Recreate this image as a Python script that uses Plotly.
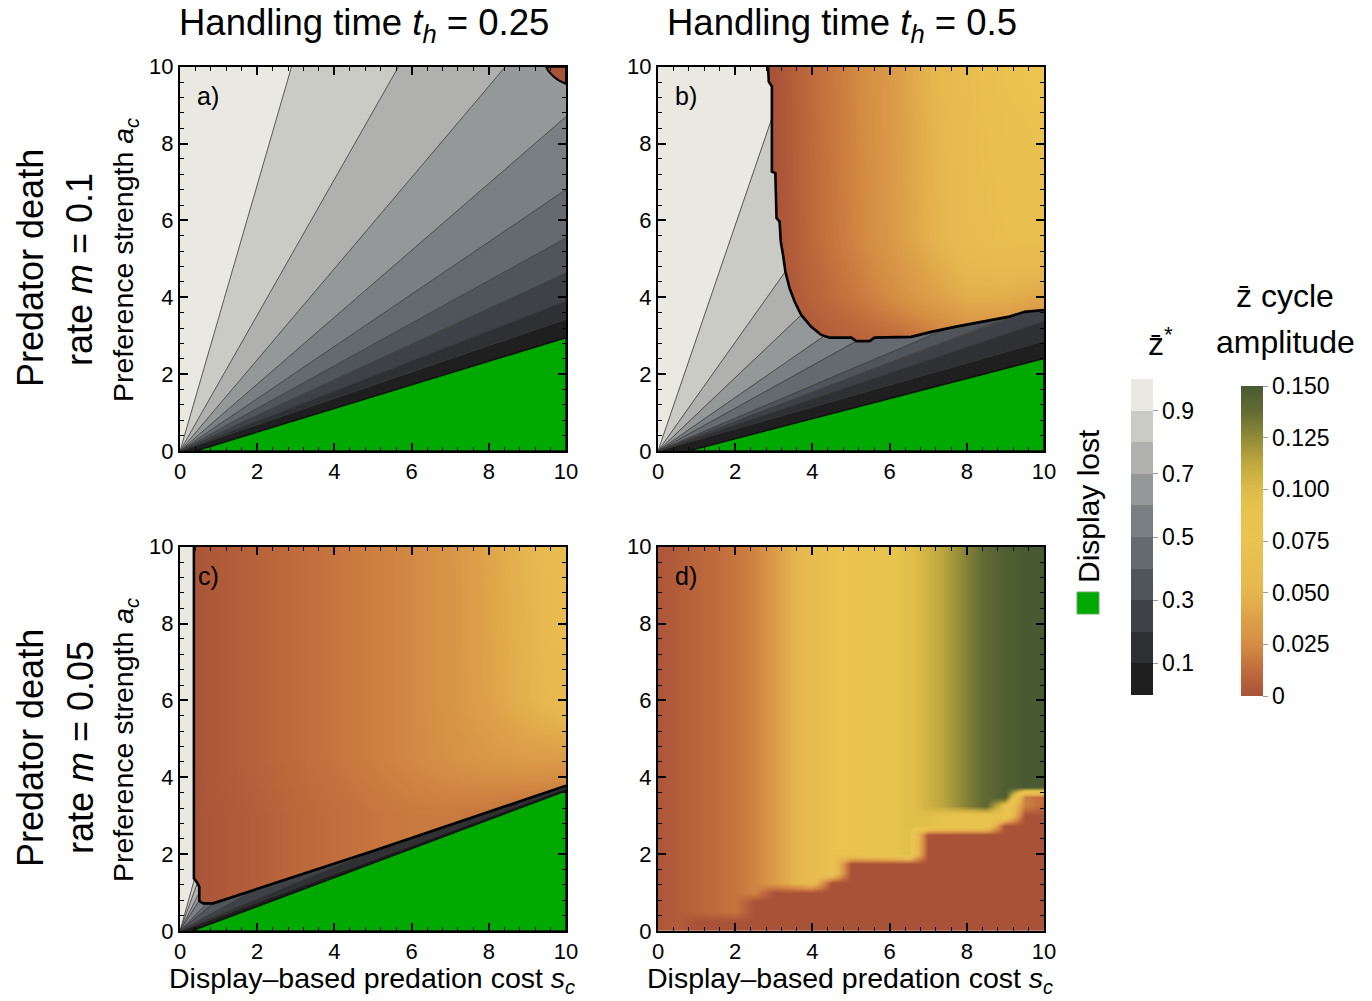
import numpy as np
import plotly.graph_objects as go

W, H = 1372, 1001
FONT = "Liberation Sans, Arial, Helvetica, sans-serif"

# ---------------- values ----------------
zstar_ticks = [0.1, 0.3, 0.5, 0.7, 0.9]
# band colours, 0-0.1 ... 0.9-1
zstar_band_colors = ["#1f1f20", "#2e3034", "#3e4247", "#50555b", "#646a70",
                     "#7a7f84", "#959899", "#b0b1ae", "#cbcbc6", "#e9e9e1"]
amp_ticks = [0, 0.025, 0.05, 0.075, 0.1, 0.125, 0.15]
amp_ticktext = ["0", "0.025", "0.050", "0.075", "0.100", "0.125", "0.150"]
amp_max = 0.15
amp_colors = [[0.0, "#a85238"], [0.0833, "#c06c3c"], [0.1667, "#d48c44"], [0.3333, "#e6b64e"],
              [0.5, "#eac350"], [0.6, "#e8c34e"], [0.6667, "#dcbb48"], [0.75, "#c0a83e"],
              [0.8333, "#918a38"], [0.9167, "#646c33"], [1.0, "#485a32"]]
green = "#00a900"

# panel a (t_h = 0.25, m = 0.1)
a_edge_x = [0, 10, 10]
a_edge_y = [10, 10, 0]
a_ray_x = [2.89, 5.66, 8.43, 10, 10, 10, 10, 10, 10]      # z* = 0.9 ... 0.1
a_ray_y = [10, 10, 10, 8.7, 6.8, 5.54, 4.63, 3.91, 3.43]
a_green_x = [0.4, 10, 10]
a_green_y = [0, 2.95, 0]
a_cycle_x = [9.48, 9.55, 9.67, 9.8, 10, 10]
a_cycle_y = [10, 9.88, 9.75, 9.65, 9.55, 10]

# panel b (t_h = 0.5, m = 0.1)
b_edge_x = [0, 2.85, 2.87, 2.95, 2.95, 3.04, 3.07, 3.15, 3.18, 3.24, 3.3, 3.41, 3.54, 3.71, 3.97,
            4.23, 4.45, 5.01, 5.14, 5.48, 5.61, 6.56, 7.08, 7.69, 8.38, 9.07, 9.5, 10, 10]
b_edge_y = [10, 10, 9.61, 9.48, 7.27, 7.23, 6.06, 5.97, 5.45, 5.1, 4.67, 4.23, 3.89, 3.54, 3.23,
            3.02, 2.95, 2.95, 2.86, 2.86, 2.95, 2.97, 3.10, 3.23, 3.36, 3.49, 3.62, 3.67, 0]
b_ray_x = [2.95, 3.3, 3.71, 4.3, 5.14, 7.5, 9.3, 10, 10]
b_ray_y = [8.66, 4.67, 3.54, 2.99, 2.86, 3.19, 3.56, 3.38, 2.86]
b_green_x = [0.78, 10, 10]
b_green_y = [0, 2.41, 0]
b_amp_x = [0, 1, 2, 3, 4, 5, 6, 7, 8, 9, 10]
b_amp_y = [0, 3, 4, 5.5, 10]
b_amp = [
    [0, 0, 0, 0, 0.004, 0.008, 0.012, 0.018, 0.025, 0.026, 0.02],
    [0, 0, 0, 0, 0.004, 0.008, 0.012, 0.018, 0.025, 0.026, 0.02],
    [0, 0, 0, 0, 0.008, 0.016, 0.025, 0.035, 0.045, 0.045, 0.04],
    [0, 0, 0, 0, 0.011, 0.021, 0.032, 0.046, 0.06, 0.066, 0.068],
    [0, 0, 0, 0, 0.012, 0.022, 0.033, 0.048, 0.064, 0.073, 0.076],
]

# panel c (t_h = 0.25, m = 0.05)
c_edge_x = [0, 0.36, 0.36, 0.45, 0.5, 0.5, 0.6, 0.86, 5.0, 10, 10]
c_edge_y = [10, 10, 1.37, 1.25, 1.15, 0.78, 0.72, 0.72, 2.08, 3.78, 0]
c_ray_x = [0.36, 0.45, 0.5, 0.5, 0.7, 0.86, 2.0, 5.0, 10]
c_ray_y = [1.3, 1.25, 1.0, 0.8, 0.72, 0.72, 1.1, 2.08, 3.72]
c_green_x = [0.3, 10, 10]
c_green_y = [0, 3.65, 0]
c_amp_x = [0, 1, 2, 3, 4, 5, 6, 7, 8, 9, 10]
c_amp_y = [0, 3, 4.5, 6, 10]
c_amp = [
    [0, 0.003, 0.006, 0.01, 0.013, 0.016, 0.018, 0.018, 0.016, 0.012, 0.008],
    [0, 0.003, 0.006, 0.01, 0.013, 0.016, 0.018, 0.018, 0.016, 0.012, 0.008],
    [0, 0.004, 0.008, 0.012, 0.016, 0.02, 0.024, 0.028, 0.032, 0.035, 0.035],
    [0, 0.004, 0.008, 0.012, 0.016, 0.02, 0.024, 0.03, 0.038, 0.048, 0.058],
    [0, 0.004, 0.008, 0.012, 0.016, 0.02, 0.024, 0.03, 0.04, 0.05, 0.066],
]

# panel d (t_h = 0.5, m = 0.05): amplitude by column, floor of the zero-amplitude steps
d_x = [0, 0.5, 1, 1.5, 2, 2.5, 3, 3.5, 4, 4.5, 5, 5.5, 6, 6.5, 7, 7.5, 8, 8.5, 9, 9.5, 10]
d_top = [0.002, 0.005, 0.009, 0.012, 0.016, 0.022, 0.034, 0.048, 0.062, 0.072, 0.078, 0.083,
         0.088, 0.096, 0.106, 0.117, 0.129, 0.14, 0.147, 0.15, 0.15]
d_edge = [0.002, 0.005, 0.009, 0.012, 0.016, 0.022, 0.034, 0.048, 0.062, 0.072, 0.078, 0.083,
          0.088, 0.096, 0.095, 0.088, 0.085, 0.085, 0.09, 0.02, 0.012]
d_floor = [0, 0, 0.3, 0.3, 0.3, 0.8, 1.1, 1.1, 1.1, 1.4, 1.85, 1.85, 1.85, 2.0, 2.6, 2.6,
           2.6, 2.6, 2.9, 3.2, 3.2]
d_rows = np.arange(0, 10.001, 0.25)


# ---------------- helpers ----------------
def px2paper(px, py):
    return px / W, 1 - py / H


def hit(dx, dy, ex, ey):
    best = None
    for i in range(len(ex) - 1):
        x1, y1, x2, y2 = ex[i], ey[i], ex[i + 1], ey[i + 1]
        sx, sy = x2 - x1, y2 - y1
        det = -dx * sy + sx * dy
        if abs(det) < 1e-12:
            continue
        t = (-x1 * sy + sx * y1) / det
        u = (dx * y1 - dy * x1) / det
        if t > 1e-9 and -1e-9 <= u <= 1 + 1e-9:
            if best is None or t < best:
                best = t
    return (best * dx, best * dy)


def wedges(ex, ey, rx, ry):
    ends = [(ex[0], ey[0])] + [hit(a, b, ex, ey) for a, b in zip(rx, ry)] + [(ex[-1], ey[-1])]
    ang = lambda p: np.arctan2(p[1], p[0])
    verts = list(zip(ex, ey))
    polys = []
    for i in range(len(ends) - 1):
        a1, a2 = ang(ends[i]), ang(ends[i + 1])
        inner = [v for v in verts if a2 + 1e-9 < ang(v) < a1 - 1e-9]
        polys.append([(0, 0), ends[i]] + inner + [ends[i + 1], (0, 0)])
    return polys, ends[1:-1]


fig = go.Figure()


def add_gray(ax, ex, ey, rx, ry, gx, gy):
    xa, ya = ax
    polys, ends = wedges(ex, ey, rx, ry)
    for k, poly in enumerate(polys):
        col = zstar_band_colors[9 - k]
        fig.add_trace(go.Scatter(x=[p[0] for p in poly], y=[p[1] for p in poly], mode="lines",
                                 fill="toself", fillcolor=col, line=dict(color=col, width=0.6),
                                 xaxis=xa, yaxis=ya, hoverinfo="skip", showlegend=False))
    lx, ly = [], []
    for e in ends:
        lx += [0, e[0], None]
        ly += [0, e[1], None]
    fig.add_trace(go.Scatter(x=lx, y=ly, mode="lines", line=dict(color="#3c3c3c", width=0.8),
                             xaxis=xa, yaxis=ya, hoverinfo="skip", showlegend=False))
    fig.add_trace(go.Scatter(x=gx + [gx[0]], y=gy + [gy[0]], mode="lines", fill="toself",
                             fillcolor=green, line=dict(color="#111111", width=1.5),
                             xaxis=xa, yaxis=ya, hoverinfo="skip", showlegend=False))


def add_bound(ax, ex, ey):
    xa, ya = ax
    fig.add_trace(go.Scatter(x=ex[1:-1], y=ey[1:-1], mode="lines",
                             line=dict(color="black", width=2.6),
                             xaxis=xa, yaxis=ya, hoverinfo="skip", showlegend=False))


def add_heat(ax, x, y, z, show=False):
    xa, ya = ax
    cb = dict(x=1241 / W, xanchor="left", y=1 - 386 / H, yanchor="top", len=310, lenmode="pixels",
              thickness=22, thicknessmode="pixels", xpad=0, ypad=0, outlinewidth=0,
              tickvals=amp_ticks, ticktext=amp_ticktext, ticks="outside", ticklen=5,
              tickcolor="#999999", tickfont=dict(family=FONT, size=23, color="black"))
    fig.add_trace(go.Heatmap(x=x, y=y, z=z, zmin=0, zmax=amp_max, colorscale=amp_colors,
                             zsmooth="best", showscale=show, colorbar=cb if show else None,
                             xaxis=xa, yaxis=ya, hoverinfo="skip"))


AX = {"a": ("x", "y"), "b": ("x2", "y2"), "c": ("x3", "y3"), "d": ("x4", "y4")}

# panel a
add_gray(AX["a"], a_edge_x, a_edge_y, a_ray_x, a_ray_y, a_green_x, a_green_y)
fig.add_trace(go.Scatter(x=a_cycle_x + [a_cycle_x[0]], y=a_cycle_y + [a_cycle_y[0]], mode="lines",
                         fill="toself", fillcolor=amp_colors[0][1], line=dict(color="black", width=2),
                         xaxis="x", yaxis="y", hoverinfo="skip", showlegend=False))

# panel b
add_heat(AX["b"], b_amp_x, b_amp_y, b_amp)
add_gray(AX["b"], b_edge_x, b_edge_y, b_ray_x, b_ray_y, b_green_x, b_green_y)
add_bound(AX["b"], b_edge_x, b_edge_y)

# panel c
add_heat(AX["c"], c_amp_x, c_amp_y, c_amp)
add_gray(AX["c"], c_edge_x, c_edge_y, c_ray_x, c_ray_y, c_green_x, c_green_y)
add_bound(AX["c"], c_edge_x, c_edge_y)

# panel d
d_z = []
for yv in d_rows:
    row = []
    for top, fl, ed in zip(d_top, d_floor, d_edge):
        if yv < fl:
            row.append(0.0)
        elif yv < fl + 0.5:
            row.append(ed)
        else:
            row.append(top)
    d_z.append(row)
add_heat(AX["d"], d_x, list(d_rows), d_z, show=True)

# gray colour bar (dummy trace)
gray_cs = []
for j, c in enumerate(zstar_band_colors):
    gray_cs += [[j / 10, c], [(j + 1) / 10, c]]
fig.add_trace(go.Scatter(x=[5], y=[5], mode="markers", xaxis="x", yaxis="y",
                         marker=dict(size=1, opacity=0, color=[0.5], cmin=0, cmax=1,
                                     colorscale=gray_cs, showscale=True,
                                     colorbar=dict(x=1131 / W, xanchor="left", y=1 - 379 / H,
                                                   yanchor="top", len=316, lenmode="pixels",
                                                   thickness=22, thicknessmode="pixels",
                                                   xpad=0, ypad=0, outlinewidth=0,
                                                   tickvals=zstar_ticks,
                                                   ticktext=[str(t) for t in zstar_ticks],
                                                   ticks="outside", ticklen=5, tickcolor="#999999",
                                                   tickfont=dict(family=FONT, size=23, color="black"))),
                         hoverinfo="skip", showlegend=False))

# ---------------- axes ----------------
xdom_l = [180 / W, 566 / W]
xdom_r = [658 / W, 1044 / W]
ydom_t = [1 - 451 / H, 1 - 66.7 / H]
ydom_b = [1 - 931 / H, 1 - 546.7 / H]


def axis(dom, anchor):
    return dict(domain=dom, anchor=anchor, range=[0, 10], showgrid=False, zeroline=False,
                showline=True, linecolor="black", linewidth=2, mirror="allticks",
                ticks="inside", ticklen=8, tickwidth=1.5, tickcolor="black",
                tickmode="linear", tick0=0, dtick=2,
                minor=dict(dtick=0.4, tick0=0, ticks="inside", ticklen=4, tickwidth=1,
                           tickcolor="black", showgrid=False),
                tickfont=dict(family=FONT, size=22, color="black"), fixedrange=True)


fig.update_layout(
    xaxis=axis(xdom_l, "y"), yaxis=axis(ydom_t, "x"),
    xaxis2=axis(xdom_r, "y2"), yaxis2=axis(ydom_t, "x2"),
    xaxis3=axis(xdom_l, "y3"), yaxis3=axis(ydom_b, "x3"),
    xaxis4=axis(xdom_r, "y4"), yaxis4=axis(ydom_b, "x4"),
)

# ---------------- text ----------------
anns = []


def ann(text, px, py, size, angle=0):
    x, y = px2paper(px, py)
    anns.append(dict(text=text, x=x, y=y, xref="paper", yref="paper", showarrow=False,
                     xanchor="center", yanchor="middle", textangle=angle,
                     font=dict(family=FONT, size=size, color="black")))


ann("Handling time <i>t</i><sub><i>h</i></sub> = 0.25", 364, 25, 36.5)
ann("Handling time <i>t</i><sub><i>h</i></sub> = 0.5", 842, 25, 36.5)
ann("Predator death", 30, 268, 36, -90)
ann("rate <i>m</i> = 0.1", 80, 270, 36, -90)
ann("Predator death", 30, 748, 36, -90)
ann("rate <i>m</i> = 0.05", 80, 748, 36, -90)
ann("Preference strength <i>a</i><sub><i>c</i></sub>", 125, 260, 28.5, -90)
ann("Preference strength <i>a</i><sub><i>c</i></sub>", 125, 740, 28.5, -90)
ann("Display\u2013based predation cost <i>s</i><sub><i>c</i></sub>", 372, 980, 28.5)
ann("Display\u2013based predation cost <i>s</i><sub><i>c</i></sub>", 850, 980, 28.5)
ann("a)", 208, 96, 25)
ann("b)", 686, 96, 25)
ann("c)", 208, 576, 25)
ann("d)", 686, 576, 25)
ann("z\u0304<sup>*</sup>", 1160, 342, 32)
ann("z\u0304 cycle", 1285, 296, 32)
ann("amplitude", 1285, 342, 32)
ann("Display lost", 1088, 506, 30, -90)

x0, y1 = px2paper(1077, 592)
x1, y0 = px2paper(1099, 614)
fig.update_layout(
    annotations=anns,
    shapes=[dict(type="rect", xref="paper", yref="paper", x0=x0, x1=x1, y0=y0, y1=y1,
                 fillcolor=green, line=dict(color="#6aa86a", width=1))],
    width=W, height=H, margin=dict(l=0, r=0, t=0, b=0, autoexpand=False),
    paper_bgcolor="white", plot_bgcolor="white", showlegend=False,
    font=dict(family=FONT, color="black"),
)

fig.write_html("out.html")
